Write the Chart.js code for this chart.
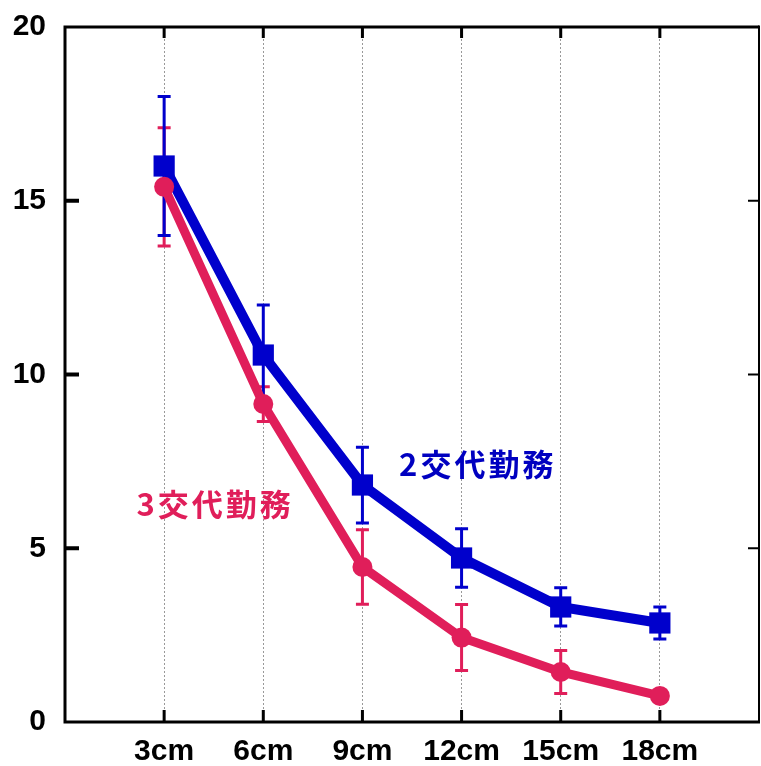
<!DOCTYPE html>
<html>
<head>
<meta charset="utf-8">
<script src="https://cdn.jsdelivr.net/npm/chart.js@4"></script>
<style>
  html, body { margin: 0; padding: 0; background: #fff; overflow: hidden; }
  canvas { display: block; }
</style>
</head>
<body>
<canvas id="c" width="761" height="766"></canvas>
<script>
// Distance categories along the x axis
const categories = ['3cm', '6cm', '9cm', '12cm', '15cm', '18cm'];

// 2交代勤務 series: mean and ± error
const twoShift    = [16.0, 10.56, 6.82, 4.72, 3.31, 2.85];
const twoShiftErr = [2.0, 1.44, 1.09, 0.84, 0.55, 0.46];

// 3交代勤務 series: mean and ± error
const threeShift    = [15.4, 9.15, 4.46, 2.43, 1.44, 0.75];
const threeShiftErr = [1.7, 0.5, 1.07, 0.95, 0.62, 0];

// Y axis tick values
const yTicks = [0, 5, 10, 15, 20];

const BLUE = '#0000cc';
const RED = '#e01e5a';
const TICK_FONT = { family: '"Liberation Sans", Arial, sans-serif', size: 30, weight: 'bold' };

const toPoints = (arr) => arr.map((v, i) => ({ x: i + 1, y: v }));

// Error bars drawn beneath the lines and markers
const errorBars = {
  id: 'errorBars',
  beforeDatasetsDraw(chart) {
    const { ctx, scales: { x, y } } = chart;
    chart.data.datasets.forEach((ds) => {
      ctx.save();
      ctx.strokeStyle = ds.borderColor;
      ctx.lineWidth = 3;
      ds.data.forEach((p, i) => {
        const e = ds.errors[i];
        if (!e) return;
        const px = x.getPixelForValue(p.x);
        const top = y.getPixelForValue(p.y + e);
        const bot = y.getPixelForValue(p.y - e);
        ctx.beginPath();
        ctx.moveTo(px, top); ctx.lineTo(px, bot);
        ctx.moveTo(px - 6.5, top); ctx.lineTo(px + 6.5, top);
        ctx.moveTo(px - 6.5, bot); ctx.lineTo(px + 6.5, bot);
        ctx.stroke();
      });
      ctx.restore();
    });
  }
};

// Series names written next to their lines
const seriesLabels = {
  id: 'seriesLabels',
  afterDatasetsDraw(chart) {
    const { ctx, scales: { x, y } } = chart;
    ctx.save();
    ctx.font = 'bold 31px "Noto Sans CJK JP"';
    ctx.letterSpacing = '3px';
    ctx.textBaseline = 'middle';
    ctx.textAlign = 'left';
    ctx.fillStyle = '#0000c0';
    ctx.fillText('2交代勤務', x.getPixelForValue(3.37), y.getPixelForValue(7.42));
    ctx.fillStyle = RED;
    ctx.fillText('3交代勤務', x.getPixelForValue(0.72), y.getPixelForValue(6.27));
    ctx.restore();
  }
};

// Plot frame with inward tick marks on all four sides
const frame = {
  id: 'frame',
  afterDraw(chart) {
    const { ctx, chartArea: a, scales: { x, y } } = chart;
    ctx.save();
    ctx.strokeStyle = '#000';
    ctx.lineCap = 'butt';
    // left, top, bottom borders
    ctx.lineWidth = 3;
    ctx.beginPath();
    ctx.moveTo(a.left, a.bottom); ctx.lineTo(a.left, a.top); ctx.lineTo(a.right, a.top);
    ctx.moveTo(a.left - 1.5, a.bottom); ctx.lineTo(a.right + 1, a.bottom);
    ctx.stroke();
    // right border
    ctx.lineWidth = 2;
    ctx.beginPath();
    ctx.moveTo(a.right, a.top - 1.5); ctx.lineTo(a.right, a.bottom);
    ctx.stroke();
    // category ticks top and bottom
    ctx.lineWidth = 3;
    ctx.beginPath();
    categories.forEach((c, i) => {
      const px = x.getPixelForValue(i + 1);
      ctx.moveTo(px, a.top); ctx.lineTo(px, a.top + 11);
      ctx.moveTo(px, a.bottom); ctx.lineTo(px, a.bottom - 12);
    });
    ctx.stroke();
    // value ticks left and right
    yTicks.slice(1, -1).forEach((v) => {
      const py = y.getPixelForValue(v);
      ctx.lineWidth = 4;
      ctx.beginPath();
      ctx.moveTo(a.left, py); ctx.lineTo(a.left + 14, py);
      ctx.stroke();
      ctx.lineWidth = 2;
      ctx.beginPath();
      ctx.moveTo(a.right, py); ctx.lineTo(a.right - 11, py);
      ctx.stroke();
    });
    ctx.restore();
  }
};

new Chart(document.getElementById('c'), {
  type: 'line',
  data: {
    datasets: [
      {
        label: '3交代勤務',
        data: toPoints(threeShift),
        errors: threeShiftErr,
        borderColor: RED,
        backgroundColor: RED,
        borderWidth: 9,
        pointStyle: 'circle',
        pointRadius: 10,
        pointBorderWidth: 0,
        pointHoverRadius: 10,
        tension: 0
      },
      {
        label: '2交代勤務',
        data: toPoints(twoShift),
        errors: twoShiftErr,
        borderColor: BLUE,
        backgroundColor: BLUE,
        borderWidth: 10,
        pointStyle: 'rect',
        pointRadius: 15,
        pointBorderWidth: 0,
        pointHoverRadius: 15,
        tension: 0
      }
    ]
  },
  options: {
    responsive: false,
    animation: false,
    events: [],
    layout: { autoPadding: false, padding: { top: 27, right: 2, left: 0, bottom: 0 } },
    plugins: { legend: { display: false }, tooltip: { enabled: false } },
    scales: {
      x: {
        type: 'linear',
        min: 0,
        max: 7,
        afterFit(s) { s.height = 44; s.paddingLeft = 0; s.paddingRight = 0; },
        afterBuildTicks(s) { s.ticks = categories.map((c, i) => ({ value: i + 1 })); },
        ticks: {
          autoSkip: false,
          maxRotation: 0,
          padding: 12,
          color: '#000',
          font: TICK_FONT,
          callback: (v) => categories[v - 1] || ''
        },
        grid: {
          drawTicks: false,
          color: '#999',
          lineWidth: 1
        },
        border: { display: false, dash: [2, 2] }
      },
      y: {
        min: 0,
        max: 20,
        afterFit(s) { s.width = 65; s.paddingTop = 0; s.paddingBottom = 0; },
        afterBuildTicks(s) { s.ticks = yTicks.map(v => ({ value: v })); },
        ticks: {
          padding: 19,
          color: '#000',
          font: TICK_FONT
        },
        grid: { display: false, drawTicks: false },
        border: { display: false }
      }
    }
  },
  plugins: [errorBars, seriesLabels, frame]
});
</script>
</body>
</html>
